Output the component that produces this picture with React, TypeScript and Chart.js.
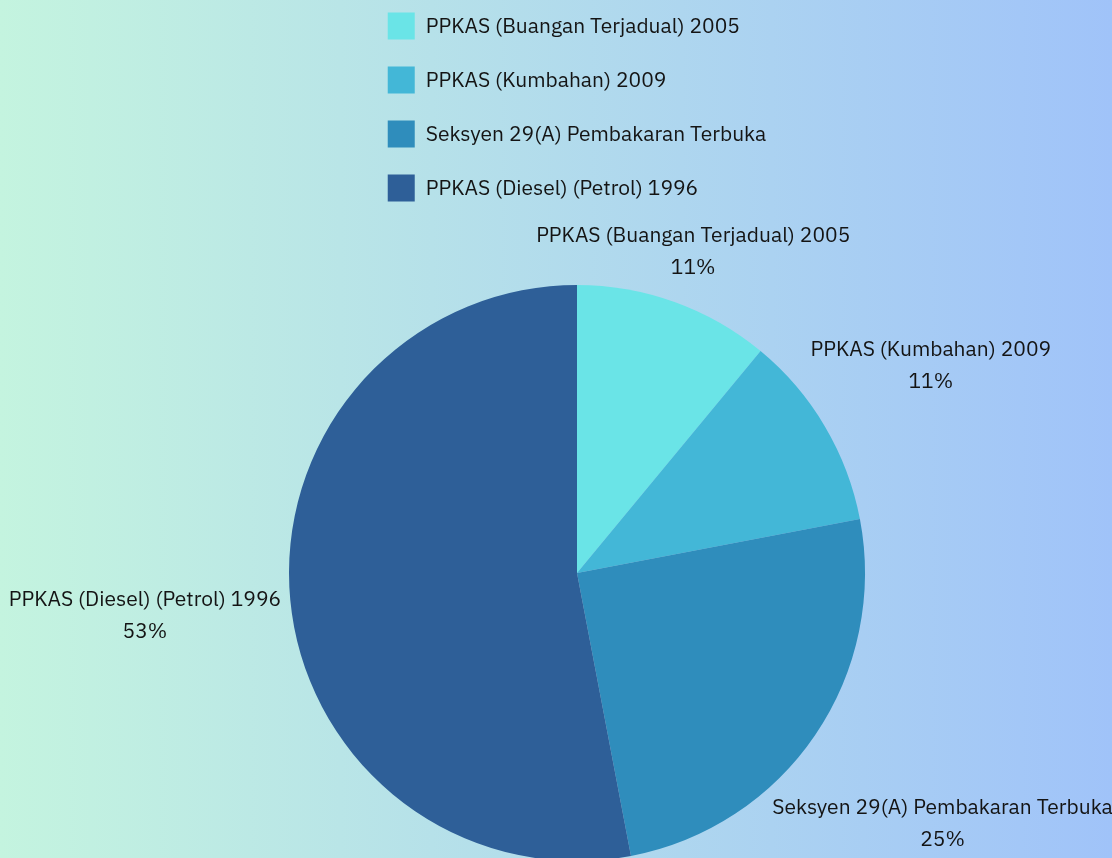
import React, { useEffect, useRef } from "react";
import { Chart, registerables } from "chart.js";

Chart.register(...registerables);

const categories = [
  "PPKAS (Buangan Terjadual) 2005",
  "PPKAS (Kumbahan) 2009",
  "Seksyen 29(A) Pembakaran Terbuka",
  "PPKAS (Diesel) (Petrol) 1996",
];
const values = [11, 11, 25, 53];
const sliceColors = ["#6ae4e7", "#43b7d7", "#2f8dbc", "#2e5f98"];
// extra radial distance for each outside label (beyond the pie radius)
const labelOffsets = [55, 123, 154, 146];

const FONT = "'IBM Plex Sans', Roboto, 'Noto Sans', sans-serif";
const TEXT_COLOR = "#141414";

const W = 1112;
const H = 880;

const customLegend = {
  id: "customLegend",
  afterDraw(chart: any) {
    const ctx = chart.ctx;
    const ds = chart.data.datasets[0];
    ctx.save();
    ctx.font = `21px ${FONT}`;
    ctx.textBaseline = "middle";
    ctx.textAlign = "left";
    const box = 27;
    const gap = 11;
    let maxW = 0;
    chart.data.labels.forEach((l: string) => {
      maxW = Math.max(maxW, ctx.measureText(l).width);
    });
    const blockW = box + gap + maxW;
    const cx = (chart.chartArea.left + chart.chartArea.right) / 2;
    const left = cx - blockW / 2;
    chart.data.labels.forEach((l: string, i: number) => {
      const y = 26 + i * 54;
      ctx.fillStyle = ds.backgroundColor[i];
      ctx.fillRect(left, y - box / 2, box, box);
      ctx.fillStyle = TEXT_COLOR;
      ctx.fillText(l, left + box + gap, y + 1);
    });
    ctx.restore();
  },
};

const outsideLabels = {
  id: "outsideLabels",
  afterDatasetsDraw(chart: any) {
    const ctx = chart.ctx;
    const meta = chart.getDatasetMeta(0);
    const data = chart.data.datasets[0].data as number[];
    const total = data.reduce((a, b) => a + b, 0);
    ctx.save();
    ctx.font = `21px ${FONT}`;
    ctx.fillStyle = TEXT_COLOR;
    ctx.textAlign = "center";
    ctx.textBaseline = "middle";
    meta.data.forEach((arc: any, i: number) => {
      const { x, y, startAngle, endAngle, outerRadius } = arc.getProps(
        ["x", "y", "startAngle", "endAngle", "outerRadius"],
        true
      );
      const mid = (startAngle + endAngle) / 2;
      const d = outerRadius + labelOffsets[i];
      const lx = x + Math.cos(mid) * d;
      const ly = y + Math.sin(mid) * d + 2;
      const pct = Math.round((data[i] / total) * 100) + "%";
      ctx.fillText(chart.data.labels[i], lx, ly - 16);
      ctx.fillText(pct, lx, ly + 16);
    });
    ctx.restore();
  },
};

export default function App() {
  const ref = useRef<HTMLCanvasElement>(null);
  useEffect(() => {
    document.body.style.margin = "0";
    const chart = new Chart(ref.current as HTMLCanvasElement, {
      type: "pie",
      data: {
        labels: categories,
        datasets: [
          {
            data: values,
            backgroundColor: sliceColors,
            borderWidth: 0,
          },
        ],
      },
      options: {
        responsive: false,
        animation: false,
        layout: { padding: { left: 289, right: 247, top: 285, bottom: 19 } },
        plugins: {
          legend: { display: false },
          tooltip: { enabled: false },
        },
      },
      plugins: [customLegend, outsideLabels],
    });
    return () => chart.destroy();
  }, []);
  return (
    <div
      style={{
        position: "fixed",
        left: 0,
        top: 0,
        width: W,
        height: 858,
        overflow: "hidden",
        background: "linear-gradient(to right, #c4f4df, #a0c3f9)",
      }}
    >
      <canvas ref={ref} width={W} height={H} style={{ display: "block" }} />
    </div>
  );
}
